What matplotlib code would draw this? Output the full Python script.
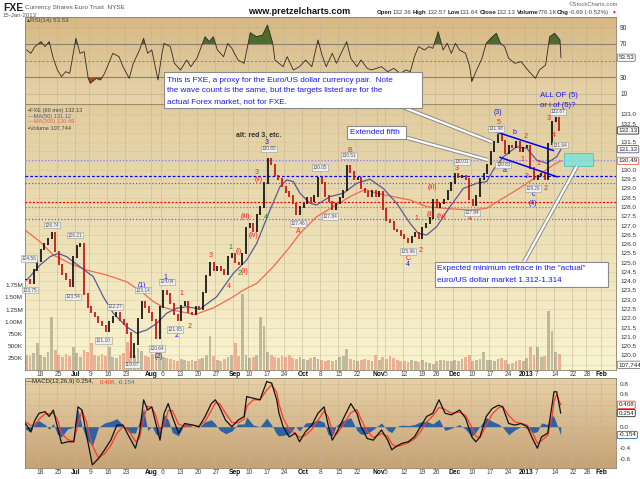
import numpy as np
import pandas as pd
import matplotlib
matplotlib.use("Agg")
import matplotlib.pyplot as plt
from matplotlib.colors import LinearSegmentedColormap
from matplotlib.patches import Rectangle
from matplotlib.lines import Line2D
import matplotlib.transforms as mtransforms

plt.rcParams['font.family'] = ['Liberation Sans', 'DejaVu Sans']

# ---------------- calendar ----------------
holidays = ['2012-07-04', '2012-09-03', '2012-10-29', '2012-10-30', '2012-11-22',
            '2012-12-25', '2013-01-01', '2013-01-21']
all_days = pd.bdate_range('2012-06-11', '2013-02-15')
trading_days = all_days[~all_days.isin(pd.to_datetime(holidays))]


def day_index(d):
    return int(trading_days.get_loc(pd.Timestamp(d)))


tick_dates = ['2012-06-18', '2012-06-25', '2012-07-02', '2012-07-09', '2012-07-16', '2012-07-23',
              '2012-08-01', '2012-08-06', '2012-08-13', '2012-08-20', '2012-08-27', '2012-09-04',
              '2012-09-10', '2012-09-17', '2012-09-24', '2012-10-01', '2012-10-08', '2012-10-15',
              '2012-10-22', '2012-11-01', '2012-11-05', '2012-11-12', '2012-11-19', '2012-11-26',
              '2012-12-03', '2012-12-10', '2012-12-17', '2012-12-24', '2013-01-02', '2013-01-07',
              '2013-01-14', '2013-01-22', '2013-01-28', '2013-02-01']
tick_labels = ['18', '25', 'Jul', '9', '16', '23', 'Aug', '6', '13', '20', '27', 'Sep', '10', '17',
               '24', 'Oct', '8', '15', '22', 'Nov', '5', '12', '19', '26', 'Dec', '10', '17', '24',
               '2013', '7', '14', '22', '28', 'Feb']
month_labels = {'Jul', 'Aug', 'Sep', 'Oct', 'Nov', 'Dec', '2013', 'Feb'}

# ---------------- data (daily closes from 12-Jun-2012 to 15-Jan-2013) ----------------
close = [124.1, 123.9, 124.6, 125.1, 125.7, 126.0, 126.3, 126.6, 125.6, 124.9,
         124.4, 124.1, 123.7, 125.3, 125.9, 126.0, 123.3, 122.6, 122.3, 122.1,
         121.8, 121.6, 121.3, 121.8, 122.1, 122.3, 121.9, 121.7, 121.2, 119.9,
         120.6, 122.0, 122.9, 122.6, 122.3, 121.9, 120.9, 122.6, 123.5, 123.3,
         122.8, 122.2, 121.9, 122.7, 122.9, 122.3, 122.2, 122.6, 122.5, 123.4,
         124.3, 125.0, 124.6, 124.8, 124.6, 124.4, 125.3, 125.5, 125.0, 124.9,
         125.5, 126.9, 127.1, 126.7, 127.6, 128.0, 129.3, 130.6, 130.3, 129.7,
         129.5, 129.1, 128.8, 128.6, 128.2, 127.6, 128.0, 128.2, 128.5, 128.3,
         128.6, 129.6, 129.3, 128.6, 128.3, 127.9, 128.2, 128.5, 128.9, 130.2,
         129.9, 129.5, 129.6, 129.0, 128.8, 128.6, 128.9, 128.6, 128.8, 127.9,
         127.3, 127.2, 126.8, 126.7, 126.5, 126.3, 126.1, 126.4, 126.6, 126.3,
         126.9, 127.1, 127.4, 128.4, 128.0, 128.2, 128.4, 128.9, 129.3, 129.8,
         129.6, 129.7, 129.5, 128.4, 128.1, 128.6, 129.5, 129.8, 130.3, 131.0,
         131.5, 131.9, 131.6, 130.9, 131.3, 131.2, 131.5, 131.0, 131.2, 131.3,
         130.1, 129.5, 129.7, 129.8, 129.5, 131.4, 132.6, 132.82, 132.13]

volume_k = [320, 280, 350, 550, 300, 260, 380, 1090, 420, 300, 260, 330, 290, 480,
            350, 260, 420, 380, 550, 300, 280, 330, 290, 470, 260, 240, 300, 350, 575, 380, 320,
            450, 400, 280, 260,
            330, 480, 420, 260, 240, 220, 200, 180, 230, 200, 190, 210, 180, 230, 250, 300, 710,
            280, 200, 190, 230, 260, 300,
            550, 280, 1570, 300, 250, 260, 320, 1090, 920, 380, 300, 260, 240, 280, 270, 300, 240,
            220, 260,
            220, 200, 240, 260, 230, 200, 190, 210, 180, 200, 260, 280, 440, 220, 200, 190, 210,
            230, 200, 180, 300,
            210, 260, 230, 280, 250, 200, 190, 180, 170, 200, 190, 160, 200, 170, 150, 120, 180,
            200, 210, 190, 180,
            200, 190, 220, 260, 300, 190, 200, 230, 370, 210, 200, 190, 220, 240, 200, 120, 150,
            180, 200, 190,
            240, 485, 300, 470, 260, 280, 1220, 800, 380, 335]

ma50_t = [1.58, 5.28, 8.06, 10.36, 12.69, 16.39, 20.08, 22.86, 25.64, 29.36, 32.14, 34.92, 37.69,
          40.47, 43.25, 46.03, 49.72, 54.36, 58.97, 62.69, 65.47, 69.17, 71.94, 73.81, 75.64, 77.5,
          80.28, 82.14, 85.83, 89.53, 93.25, 96.94, 100.64, 104.36, 108.06, 110.36, 112.69, 115.47,
          119.17, 122.86, 126.58, 129.36, 131.19, 133.97, 137.69, 140.47, 143.25, 146.03, 148.81, 150.0]
ma50_v = [124.06, 124.87, 125.32, 125.5, 125.32, 124.78, 124.24, 123.16, 122.27, 121.54, 121.19,
          121.37, 121.72, 122.27, 122.54, 122.62, 122.5, 123.16, 124.42, 125.14, 126.04, 127.84,
          129.1, 129.46, 129.37, 128.74, 128.2, 128.11, 128.56, 128.74, 129.28, 129.5, 129.0, 128.2,
          127.12, 126.58, 126.49, 126.94, 128.02, 129.0, 129.28, 129.37, 130.0, 130.71, 131.25,
          131.17, 130.53, 130.36, 130.71, 131.12]

ma200_t = [1.11, 5.28, 8.97, 13.61, 18.25, 23.81, 29.36, 33.97, 36.75, 39.53, 43.25, 48.33, 53.33,
           58.97, 61.75, 65.47, 68.25, 70.08, 74.72, 77.5, 82.14, 86.75, 91.39, 95.56, 98.81, 108.06,
           112.69, 117.31, 124.72, 129.36, 133.06, 137.69, 143.25, 147.86, 150.0]
ma200_v = [126.76, 126.13, 125.41, 124.96, 124.6, 124.33, 123.97, 123.35, 122.9, 122.6, 122.4,
           122.2, 122.55, 123.16, 123.52, 123.88, 124.42, 124.78, 125.86, 126.58, 127.48, 128.02,
           128.56, 128.95, 128.74, 128.38, 128.02, 127.93, 127.84, 127.93, 128.38, 128.92, 129.63,
           130.27, 130.49]

rsi_t = [1.58, 2.72, 3.86, 5.56, 6.67, 7.83, 8.97, 10.11, 11.25, 12.39, 13.53, 15.25, 16.39, 17.53,
         18.67, 19.25, 20.94, 22.08, 23.22, 24.36, 25.5, 27.22, 28.33, 30.06, 31.19, 32.92, 34.06,
         35.19, 36.33, 38.06, 39.17, 39.75, 41.47, 42.61, 44.31, 46.03, 47.17, 48.86, 51.14, 52.28,
         53.42, 54.56, 56.28, 57.42, 58.56, 60.28, 61.97, 63.11, 63.69, 65.39, 67.11, 68.47, 69.94,
         70.53, 72.81, 73.94, 75.64, 77.36, 79.06, 80.78, 82.5, 83.61, 84.78, 86.47, 87.61, 90.47,
         91.61, 93.31, 94.44, 96.17, 97.31, 100.14, 101.86, 103.56, 105.28, 107.0, 108.14, 109.28,
         110.42, 112.11, 113.25, 114.39, 115.89, 117.25, 118.39, 119.53, 120.67, 121.81, 123.5,
         124.64, 125.22, 126.36, 128.06, 129.22, 130.92, 132.06, 133.19, 134.33, 135.47, 137.19,
         138.89, 141.17, 142.89, 144.03, 145.72, 146.86, 148.25, 149.72, 150.0]
rsi_v = [62.8, 58.8, 66.8, 72.8, 66.8, 72.8, 52.8, 38.8, 30.8, 36.8, 34.8, 76.8, 58.8, 60.8, 28.8,
         22.8, 28.8, 26.8, 34.8, 46.8, 58.8, 54.8, 42.8, 28.8, 46.8, 62.8, 76.8, 58.8, 62.8, 26.8,
         58.8, 70.8, 66.8, 46.8, 38.8, 50.8, 42.8, 52.8, 78.8, 72.8, 78.8, 62.8, 54.8, 70.8, 64.8,
         50.8, 46.8, 70.8, 83.6, 78.8, 80.8, 92.8, 70.8, 50.8, 42.8, 54.8, 38.8, 42.8, 50.8, 42.8,
         74.8, 56.8, 42.8, 58.8, 46.8, 72.8, 52.8, 42.8, 50.8, 40.8, 38.8, 42.8, 36.8, 40.8, 34.8,
         38.8, 36.8, 54.8, 66.8, 62.8, 66.8, 64.8, 84.8, 62.8, 70.8, 58.8, 70.8, 62.8, 58.8, 42.8,
         24.8, 36.8, 52.8, 70.8, 78.8, 82.8, 70.8, 66.8, 52.8, 46.8, 48.8, 36.8, 28.8, 38.8, 44.8,
         78.8, 82.8, 74.8, 53.53]

macd_t = [1.22, 2.72, 3.86, 5.0, 6.69, 7.83, 8.97, 10.11, 11.25, 12.97, 14.67, 15.83, 16.94, 18.11,
          19.81, 21.53, 23.22, 24.94, 26.64, 28.33, 30.06, 31.78, 32.92, 34.06, 35.19, 36.33, 37.47,
          38.61, 39.75, 40.89, 42.03, 43.75, 45.44, 47.72, 49.44, 51.14, 52.86, 54.0, 55.14, 56.83,
          58.56, 60.28, 61.97, 62.69, 64.53, 66.39, 68.25, 69.64, 71.03, 71.67, 72.81, 74.5, 76.22,
          77.36, 79.06, 80.78, 82.5, 84.19, 85.33, 86.47, 87.61, 89.33, 91.61, 93.31, 94.44, 96.17,
          97.86, 100.14, 101.86, 103.0, 104.14, 105.83, 107.56, 109.28, 110.97, 112.69, 114.39,
          116.11, 117.81, 119.53, 121.81, 123.5, 125.22, 126.36, 127.5, 129.22, 130.92, 132.64,
          133.78, 135.47, 137.19, 138.89, 140.61, 142.31, 143.44, 144.58, 146.31, 147.44, 148.06,
          148.81, 149.92]
macd_v = [0.06, -0.09, 0.12, 0.25, 0.28, 0.19, 0.31, 0.0, -0.31, -0.28, -0.28, 0.37, 0.31, -0.12,
          -0.71, -0.59, -0.43, -0.25, 0.03, 0.03, -0.19, -0.40, -0.12, 0.5, 0.31, 0.37, 0.06, -0.25,
          0.25, 0.43, 0.19, -0.12, 0.06, 0.03, 0.0, 0.19, 0.43, 0.5, 0.37, 0.12, 0.0, 0.12, 0.19,
          0.56, 0.53, 0.5, 0.84, 0.81, 0.5, 0.25, 0.0, -0.19, -0.12, -0.28, -0.09, 0.03, 0.25, 0.37,
          0.03, -0.25, -0.12, 0.12, 0.43, 0.25, 0.0, -0.22, -0.25, -0.06, -0.25, -0.43, -0.37, -0.31,
          -0.28, -0.19, 0.0, 0.19, 0.25, 0.5, 0.25, 0.22, 0.31, 0.16, -0.19, -0.28, -0.19, 0.19,
          0.34, 0.40, 0.37, 0.06, 0.03, 0.06, 0.0, -0.25, -0.40, -0.19, -0.12, 0.37, 0.65, 0.65,
          0.254]
signal_v = [0.10, 0.02, 0.03, 0.14, 0.24, 0.24, 0.25, 0.14, -0.12, -0.24, -0.27, 0.05, 0.30, 0.10,
            -0.35, -0.58, -0.50, -0.35, -0.12, 0.00, -0.08, -0.28, -0.22, 0.16, 0.38, 0.36, 0.20,
            -0.08, 0.02, 0.30, 0.30, 0.05, 0.00, 0.03, 0.01, 0.10, 0.30, 0.45, 0.43, 0.25, 0.08,
            0.07, 0.14, 0.38, 0.50, 0.50, 0.68, 0.78, 0.64, 0.42, 0.16, -0.05, -0.13, -0.20, -0.16,
            -0.05, 0.12, 0.29, 0.18, -0.08, -0.14, 0.01, 0.26, 0.32, 0.14, -0.09, -0.20, -0.13,
            -0.18, -0.32, -0.37, -0.34, -0.30, -0.23, -0.09, 0.09, 0.20, 0.36, 0.32, 0.25, 0.27,
            0.21, -0.01, -0.18, -0.20, 0.02, 0.24, 0.35, 0.38, 0.21, 0.09, 0.06, 0.03, -0.14, -0.31,
            -0.26, -0.16, 0.15, 0.47, 0.60, 0.408]

# horizontal target levels (price, colour, dash pattern)
levels = [(130.52, '#7f7fff', (1, 1.6)), (129.66, '#0000ff', (2.2, 1.6)),
          (129.28, '#5b5bff', (1, 1.6)), (128.27, '#ff0000', (1.6, 1.4)),
          (128.00, '#8a8a8a', (1, 1.6)), (127.38, '#5b5bff', (1, 1.6))]

# channel lines (day, price)
channel_upper = ([131.67, 147.86], [132.07, 131.05])
channel_lower = ([133.06, 148.9], [130.68, 129.63])
target_zone = (150.9, 158.97, 130.23, 130.90)

# wave labels: (day, price, text, colour)
wave_labels = [
    (68.25, 131.47, '3', 'b'), (132.6, 133.12, '(3)', 'b'), (132.6, 132.58, '5', 'r'),
    (137.2, 132.03, 'b', 'b'), (134.4, 129.96, 'a', 'b'), (142.3, 128.65, 'c', 'b'),
    (142.3, 128.2, '(4)', 'b'), (140.2, 131.79, '2', 'r'), (139.25, 130.54, '1', 'r'),
    (143.7, 130.36, '1', 'r'), (140.6, 129.63, '3', 'r'), (145.6, 129.01, '2', 'r'),
    (146.5, 132.78, '3', 'r'), (148.1, 131.88, '4', 'r'), (121.0, 130.09, '3', 'r'),
    (124.7, 127.39, '4', 'r'), (107.5, 125.25, 'C', 'r'), (107.5, 124.9, '4', 'b'),
    (111.0, 125.63, '2', 'r'), (109.9, 127.39, '1', 'r'), (113.9, 127.57, '(ii)', 'r'),
    (114.4, 129.06, '(iii)', 'r'), (116.9, 127.51, '(iv)', 'r'), (91.2, 131.04, 'B', 'r'),
    (77.0, 126.67, 'A', 'r'), (62.2, 127.48, '(iii)', 'r'), (64.5, 126.49, '(iv)', 'r'),
    (65.6, 129.85, '3', 'g'), (66.1, 129.46, '(v)', 'r'), (68.05, 127.45, '4', 'g'),
    (58.25, 125.83, '1', 'g'), (60.4, 125.59, '(i)', 'r'), (60.6, 124.42, '2', 'g'),
    (62.2, 124.51, '(ii)', 'r'), (52.7, 125.37, '3', 'r'), (57.6, 123.7, '4', 'r'),
    (44.6, 123.34, '1', 'r'), (46.9, 121.54, '2', 'r'), (40.2, 124.22, '1', 'b'),
    (43.25, 121.06, '2', 'b'), (33.5, 123.79, '(1)', 'b'), (38.4, 119.93, '(2)', 'b')]

# price tags: (day, price, text)
price_tags = [
    (8.5, 127.03, '126.74'), (15.0, 126.49, '126.21'), (2.2, 125.23, '124.56'),
    (2.5, 123.52, '123.75'), (14.5, 123.16, '123.54'), (22.9, 120.79, '121.10'),
    (26.1, 122.62, '122.27'), (30.75, 119.48, '119.67'), (34.0, 123.52, '123.14'),
    (37.7, 120.38, '120.64'), (40.5, 123.97, '124.04'), (42.8, 121.40, '121.85'),
    (68.9, 131.13, '130.85'), (76.9, 127.12, '127.46'), (83.1, 130.14, '130.05'),
    (85.8, 127.48, '127.84'), (91.2, 130.78, '130.51'), (107.6, 125.59, '125.96'),
    (122.4, 130.44, '130.01'), (125.2, 127.69, '127.94'), (131.9, 132.22, '131.98'),
    (134.0, 130.27, '130.63'), (142.3, 129.00, '129.26'), (149.25, 133.14, '132.87'),
    (149.7, 131.34, '131.64')]

# ---------------- figure ----------------
W, H = 640, 479
fig = plt.figure(figsize=(6.4, 4.79), dpi=100)
fig.patch.set_facecolor('white')


def fx(x):
    return x / W


def fy(y):
    return 1 - y / H


L, R = 25, 616
RSI_T, RSI_B = 17, 104
MAIN_B = 370
MACD_T, MACD_B = 378, 468
XLIM = (1.11, 165.28)

ax_r = fig.add_axes([fx(L), fy(RSI_B), (R - L) / W, (RSI_B - RSI_T) / H])
ax_v = fig.add_axes([fx(L), fy(MAIN_B), (R - L) / W, (MAIN_B - RSI_B) / H], sharex=ax_r)
ax = fig.add_axes([fx(L), fy(MAIN_B), (R - L) / W, (MAIN_B - RSI_B) / H], sharex=ax_r)
ax_m = fig.add_axes([fx(L), fy(MACD_B), (R - L) / W, (MACD_B - MACD_T) / H], sharex=ax_r)
ax.patch.set_visible(False)


def grad_bg(a, top, bottom):
    cmap = LinearSegmentedColormap.from_list('g', [bottom, top])
    g = np.linspace(0, 1, 256).reshape(-1, 1)
    a.imshow(g, cmap=cmap, aspect='auto', extent=[0, 1, 0, 1], transform=a.transAxes,
             origin='lower', zorder=0, interpolation='bilinear')


grad_bg(ax_r, '#d6b884', '#e8d4ab')
grad_bg(ax_v, '#e1cc9e', '#f9f4d0')
grad_bg(ax_m, '#e7d1a6', '#c6a276')

tick_idx = [day_index(d) for d in tick_dates]

for a in (ax_r, ax_v, ax, ax_m):
    for s in a.spines.values():
        s.set_color('#8f7f5f')
        s.set_linewidth(0.6)
    a.tick_params(axis='x', length=0, labelbottom=False)
for a in (ax_r, ax_v, ax_m):
    for t in tick_idx:
        a.axvline(t, color='#bfb395', lw=0.5, alpha=0.7, zorder=1)
for s in ax.spines.values():
    s.set_visible(False)

# ---------------- RSI panel ----------------
rt = np.array(rsi_t)
rv = np.array(rsi_v)
for lv in (10, 90):
    ax_r.axhline(lv, color='#bfb395', lw=0.5, zorder=1)
ax_r.axhline(70, color='#8c8272', lw=0.8, zorder=2)
ax_r.axhline(30, color='#8c8272', lw=0.8, zorder=2)
ax_r.axhline(50, color='#8c8272', lw=0.6, ls=(0, (3, 2)), zorder=2)
ax_r.fill_between(rt, rv, 70, where=rv > 70, interpolate=True, color='#4e6a2c', lw=0, zorder=3)
ax_r.fill_between(rt, rv, 30, where=rv < 30, interpolate=True, color='#a24a33', lw=0, zorder=3)
ax_r.plot(rt, rv, color='#2f2a22', lw=0.6, zorder=4)
ax_r.set_ylim(-2, 102.4)
ax_r.set_yticks([10, 30, 50, 70, 90])
ax_r.set_yticklabels(['10', '30', '', '70', '90'])
ax_r.yaxis.tick_right()
ax_r.tick_params(axis='y', labelsize=4.8, length=0, pad=3, colors='#333333')
ax_r.text(0.004, 0.955, '\u25b4RSI(14) 53.53', transform=ax_r.transAxes, fontsize=4.4,
          color='#444444', va='center', ha='left', zorder=6)

# ---------------- volume (behind price) ----------------
cl = np.array(close)
xc = np.arange(1, len(cl) + 1) + 0.5
prev = np.r_[cl[0], cl[:-1]]
up = cl >= prev
vol = np.array(volume_k) * 1000.0
ax_v.bar(xc[up], vol[up], width=0.75, color='#6d6556', alpha=0.4, lw=0, zorder=2)
ax_v.bar(xc[~up], vol[~up], width=0.75, color='#e0604c', alpha=0.45, lw=0, zorder=2)
ax_v.set_ylim(0, 5.5e6)
vt = [250e3, 500e3, 750e3, 1.0e6, 1.25e6, 1.5e6, 1.75e6]
ax_v.set_yticks(vt)
ax_v.set_yticklabels(['250K', '500K', '750K', '1.00M', '1.25M', '1.50M', '1.75M'])
ax_v.yaxis.tick_left()
ax_v.tick_params(axis='y', labelsize=4.6, length=0, pad=1.5, colors='#333333')

# ---------------- price panel ----------------
ax.set_ylim(119.21, 133.556)
for p in np.arange(119.5, 133.51, 0.5):
    ax.axhline(p, color='#cdbf9c', lw=0.4, alpha=0.6, zorder=1)
for lv, col, dash in levels:
    ax.axhline(lv, color=col, lw=0.9, ls=(0, dash), zorder=2)

ax.plot(ma200_t, ma200_v, color='#f06a55', lw=0.9, zorder=3)
ax.plot(ma50_t, ma50_v, color='#5a5a96', lw=0.9, zorder=3)

lo = np.minimum(prev, cl)
hi = np.maximum(prev, cl)
ax.vlines(xc[up], lo[up] - 0.04, hi[up] + 0.04, color='#111111', lw=1.25, zorder=4)
ax.vlines(xc[~up], lo[~up] - 0.04, hi[~up] + 0.04, color='#cc1111', lw=1.25, zorder=4)

ax.plot(channel_upper[0], channel_upper[1], color='#0000ee', lw=1.1, zorder=5)
ax.plot(channel_lower[0], channel_lower[1], color='#0000ee', lw=1.1, zorder=5)
z0, z1, z2, z3 = target_zone
ax.add_patch(Rectangle((z0, z2), z1 - z0, z3 - z2, facecolor='#7fe3d6', edgecolor='#4cc4c0',
                       lw=0.7, alpha=0.85, zorder=5))

pticks = np.round(np.arange(120.0, 133.01, 0.5), 1)
hidden_price = {132.0, 131.0, 130.5}
ax.set_yticks(pticks)
ax.set_yticklabels(['' if v in hidden_price else '%.1f' % v for v in pticks])
ax.yaxis.tick_right()
ax.tick_params(axis='y', labelsize=4.6, length=0, pad=3, colors='#333333')

colmap = {'r': '#ff1a1a', 'b': '#1a1aff', 'g': '#1f8a1f'}
for d, p, t, c in wave_labels:
    ax.text(d, p, t, color=colmap[c], fontsize=5.0, ha='center', va='center', zorder=7)
for d, p, t in price_tags:
    ax.text(d, p, t, color='#555555', fontsize=3.4, ha='center', va='center', zorder=7,
            bbox=dict(boxstyle='square,pad=0.15', fc='#eeeeee', ec='#9a9a9a', lw=0.4))
ax.text(65.9, 131.88, 'alt: red 3, etc.', color='#333333', fontsize=5.0, fontweight='bold',
        ha='center', va='center', zorder=7)
ax.text(149.5, 133.99, 'ALL OF (5)', color='#1a1aff', fontsize=5.6, ha='center', va='center',
        zorder=8, clip_on=False)
ax.text(149.2, 133.49, 'or i of (5)?', color='#1a1aff', fontsize=5.6, ha='center', va='center',
        zorder=8, clip_on=False)

# legend lines in price panel
leg = [('\u25aaFXE (60 min) 132.13', '#444444'), ('\u2014MA(50) 131.12', '#55558f'),
       ('\u2014MA(200) 130.49', '#e8604c'), ('\u25aaVolume 107,744', '#444444')]
for k, (t, c) in enumerate(leg):
    fig.text(fx(28), fy(110.7 + 5.6 * k), t, fontsize=4.1, color=c, va='center', ha='left',
             zorder=12)

# right-side value tags
bt_main = mtransforms.blended_transform_factory(ax.transAxes, ax.transData)
for val, txt, ec in [(132.13, '132.13', '#222222'), (131.12, '131.12', '#55558f'),
                     (130.49, '130.49', '#e8604c')]:
    ax.text(1.004, val, txt, transform=bt_main, fontsize=4.5, va='center', ha='left',
            color='#222222', zorder=9, clip_on=False,
            bbox=dict(boxstyle='round,pad=0.18', fc='white', ec=ec, lw=0.6))
bt_vol = mtransforms.blended_transform_factory(ax_v.transAxes, ax_v.transData)
ax_v.text(1.004, 107744, '107,744', transform=bt_vol, fontsize=4.5, va='center', ha='left',
          color='#222222', zorder=9, clip_on=False,
          bbox=dict(boxstyle='round,pad=0.18', fc='white', ec='#777777', lw=0.6))
bt_rsi = mtransforms.blended_transform_factory(ax_r.transAxes, ax_r.transData)
ax_r.text(1.004, 53.53, '53.53', transform=bt_rsi, fontsize=4.5, va='center', ha='left',
          color='#222222', zorder=9, clip_on=False,
          bbox=dict(boxstyle='round,pad=0.18', fc='white', ec='#777777', lw=0.6))

# ---------------- MACD panel ----------------
mt = np.array(macd_t)
mv = np.array(macd_v)
sv = np.array(signal_v)
hist = mv - sv
mticks = np.round(np.arange(-0.6, 0.81, 0.2), 1)
for lv in mticks:
    ax_m.axhline(lv, color='#bfae88', lw=0.4, alpha=0.6, zorder=1)
ax_m.fill_between(mt, hist, 0, color='#2d62a5', lw=0, zorder=2)
ax_m.plot(mt, sv, color='#ff3b2a', lw=0.9, zorder=3)
ax_m.plot(mt, mv, color='#111111', lw=0.9, zorder=4)
ax_m.set_ylim(-0.768, 0.906)
hidden_macd = {0.4, 0.2, -0.2}
ax_m.set_yticks(mticks)
ax_m.set_yticklabels(['' if v in hidden_macd else '%.1f' % v for v in mticks])
ax_m.yaxis.tick_right()
ax_m.tick_params(axis='y', labelsize=4.6, length=0, pad=3, colors='#333333')
bt_m = mtransforms.blended_transform_factory(ax_m.transAxes, ax_m.transData)
for val, txt, ec in [(0.408, '0.408', '#ff3b2a'), (0.254, '0.254', '#222222'),
                     (-0.154, '-0.154', '#2d62a5')]:
    ax_m.text(1.004, val, txt, transform=bt_m, fontsize=4.5, va='center', ha='left',
              color='#222222', zorder=9, clip_on=False,
              bbox=dict(boxstyle='round,pad=0.18', fc='white', ec=ec, lw=0.6))
fig.text(fx(26), fy(382), '\u2014', fontsize=4.4, color='#111111', va='center', zorder=12)
fig.text(fx(32), fy(382), 'MACD(12,26,9) 0.254,', fontsize=4.4, color='#222222', va='center', zorder=12)
fig.text(fx(100), fy(382), '0.408,', fontsize=4.4, color='#ff3b2a', va='center', zorder=12)
fig.text(fx(118), fy(382), '-0.154', fontsize=4.4, color='#3a6fb0', va='center', zorder=12)

for a in (ax_r, ax_v, ax, ax_m):
    a.set_xlim(*XLIM)

# date labels under price panel and MACD panel
bt_x_main = mtransforms.blended_transform_factory(ax.transData, ax.transAxes)
bt_x_macd = mtransforms.blended_transform_factory(ax_m.transData, ax_m.transAxes)
for t, lab in zip(tick_idx, tick_labels):
    bold = lab in month_labels
    kw = dict(fontsize=4.8, ha='center', va='center', clip_on=False,
              color='#111111' if bold else '#444444', fontweight='bold' if bold else 'normal')
    ax.text(t + 0.3, -4.0 / (MAIN_B - RSI_B), lab, transform=bt_x_main, **kw)
    ax_m.text(t + 0.3, -5.0 / (MACD_B - MACD_T), lab, transform=bt_x_macd, **kw)

# ---------------- header ----------------
fig.text(fx(3), fy(8), 'FXE', fontsize=7.5, fontweight='bold', color='#222222', va='center')
fig.text(fx(25), fy(8), 'Currency Shares Euro Trust  NYSE', fontsize=4.6, color='#555555', va='center')
fig.text(fx(3), fy(15.5), '15-Jan-2013', fontsize=4.4, color='#555555', va='center')
fig.text(fx(299), fy(11), 'www.pretzelcharts.com', fontsize=6.6, fontweight='bold',
         color='#111111', va='center', ha='center')
fig.text(fx(618), fy(5), '\u00a9StockCharts.com', fontsize=4.2, color='#666666', va='center', ha='right')
hdr = [(377, 'Open', True), (393, '132.36', False), (413, 'High', True), (428, '132.57', False),
       (448, 'Low', True), (460, '131.64', False), (480, 'Close', True), (497, '132.13', False),
       (517, 'Volume', True), (538, '776.1K', False), (557, 'Chg', True),
       (569, '-0.69 (-0.52%)', False)]
for x, t, b in hdr:
    fig.text(fx(x), fy(12.3), t, fontsize=4.4, color='#222222' if b else '#444444',
             fontweight='bold' if b else 'normal', va='center', ha='left')
fig.text(fx(611), fy(12.3), '\u25bc', fontsize=3.4, color='#dd2222', va='center', ha='left')

# ---------------- callout boxes ----------------
def box(x0, y0, x1, y1):
    fig.add_artist(Rectangle((fx(x0), fy(y1)), (x1 - x0) / W, (y1 - y0) / H,
                             transform=fig.transFigure, facecolor='white', edgecolor='#8a8a8a',
                             lw=0.8, zorder=20))


def pointer(x0, y0, x1, y1):
    fig.add_artist(Line2D([fx(x0), fx(x1)], [fy(y0), fy(y1)], transform=fig.transFigure,
                          color='#8a8a8a', lw=3.0, solid_capstyle='butt', zorder=18))
    fig.add_artist(Line2D([fx(x0), fx(x1)], [fy(y0), fy(y1)], transform=fig.transFigure,
                          color='white', lw=1.6, solid_capstyle='butt', zorder=19))


pointer(400, 106, 492, 142)
pointer(404, 137, 488, 160)
pointer(524, 262, 577, 166)

box(164, 72, 422, 108)
blue = '#1a1aee'
for k, line in enumerate(['This is FXE, a proxy for the Euro/US dollar currency pair.  Note',
                          'the wave count is the same, but the targets listed are for the',
                          'actual Forex market, not for FXE.']):
    fig.text(fx(167), fy(80.5 + 10.3 * k), line, fontsize=5.9, color=blue, va='center',
             ha='left', zorder=21)
box(347, 126, 406, 139)
fig.text(fx(350), fy(132.5), 'Extended fifth', fontsize=5.9, color=blue, va='center', ha='left', zorder=21)
box(435, 262, 608, 287)
fig.text(fx(437), fy(269), 'Expected minimum retrace in the "actual"', fontsize=5.9, color=blue,
         va='center', ha='left', zorder=21)
fig.text(fx(437), fy(280.5), 'euro/US dollar market 1.312-1.314', fontsize=5.9, color=blue,
         va='center', ha='left', zorder=21)

fig.savefig('out.png', dpi=100)
